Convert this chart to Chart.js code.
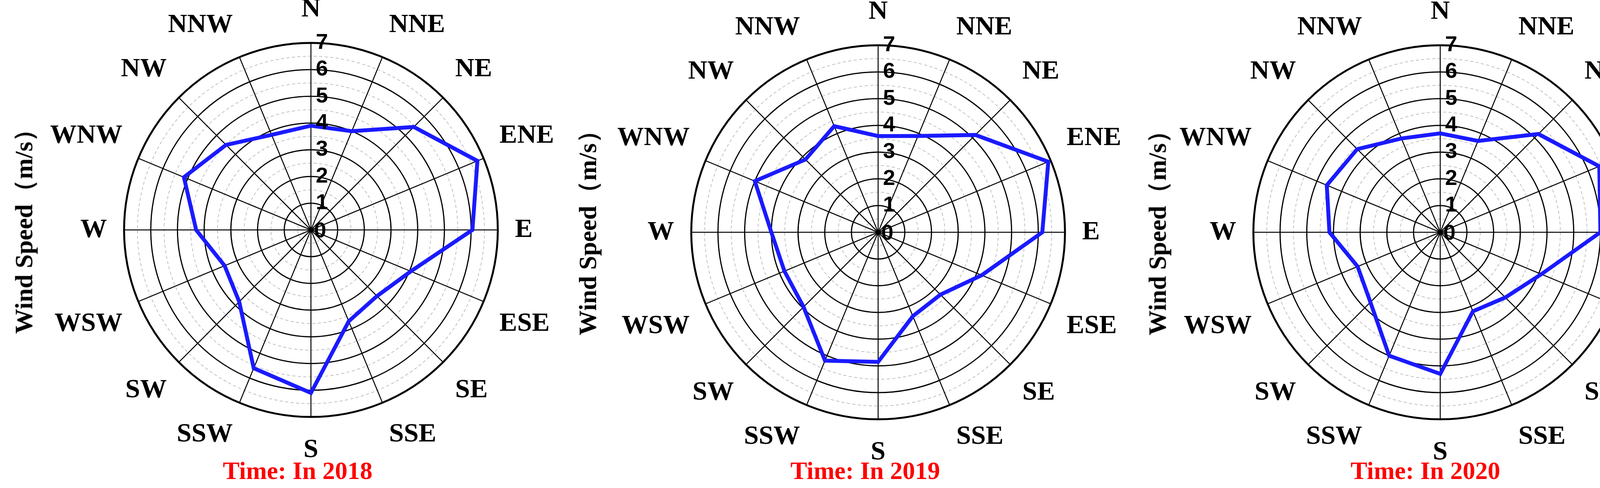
<!DOCTYPE html>
<html>
<head>
<meta charset="utf-8">
<script src="https://cdn.jsdelivr.net/npm/chart.js@4.4.1/dist/chart.umd.min.js"></script>
<style>
  body { margin: 0; width: 4257px; height: 1248px; background: #fff; overflow: hidden; position: relative; }
  .box { position: absolute; width: 1340px; height: 1340px; }
  .ylab { position: absolute; font: bold 64px "Liberation Serif", "Times New Roman", serif; white-space: nowrap;
          transform: translate(-50%, -50%) rotate(-90deg); }
  .title { position: absolute; font: bold 64px "Liberation Serif", "Times New Roman", serif; color: #ff0000;
           white-space: nowrap; transform: translate(-50%, -50%); }
</style>
</head>
<body>
<div class="box" id="b0"><canvas id="c0"></canvas></div>
<div class="box" id="b1"><canvas id="c1"></canvas></div>
<div class="box" id="b2"><canvas id="c2"></canvas></div>
<div class="ylab" style="left:61px;top:576px">Wind Speed（m/s）</div>
<div class="ylab" style="left:1504px;top:580px">Wind Speed（m/s）</div>
<div class="ylab" style="left:2963px;top:580px">Wind Speed（m/s）</div>
<div class="title" style="left:762px;top:1204px">Time: In 2018</div>
<div class="title" style="left:2215px;top:1204px">Time: In 2019</div>
<div class="title" style="left:3649px;top:1204px">Time: In 2020</div>
<script>
const directions = ['N', 'NNE', 'NE', 'ENE', 'E', 'ESE', 'SE', 'SSE', 'S', 'SSW', 'SW', 'WSW', 'W', 'WNW', 'NW', 'NNW'];
const speed2018 = [3.9, 4.0, 5.45, 6.75, 6.05, 4.05, 3.5, 3.7, 6.1, 5.6, 3.8, 3.5, 4.3, 5.15, 4.5, 3.85];
const speed2019 = [3.6, 3.9, 5.15, 6.9, 6.15, 4.2, 3.3, 3.4, 4.85, 5.2, 3.95, 3.8, 4.0, 5.0, 3.85, 4.3];
const speed2020 = [3.7, 3.7, 5.2, 6.45, 6.0, 4.1, 3.45, 3.2, 5.3, 5.0, 3.7, 3.35, 4.15, 4.6, 4.4, 3.8];
const speedMax = 7;

const charts = [
    { id: 'c0', box: 'b0', cx: 772, cy: 588, data: speed2018 },
    { id: 'c1', box: 'b1', cx: 2224, cy: 594, data: speed2019 },
    { id: 'c2', box: 'b2', cx: 3663, cy: 594, data: speed2020 }
];

// draws the "0" at the centre, which the radial scale skips
const zeroLabel = {
    id: 'zeroLabel',
    afterDatasetsDraw(chart) {
        const r = chart.scales.r;
        const ctx = chart.ctx;
        ctx.save();
        ctx.font = 'bold 56px "Liberation Sans Narrow", "Liberation Sans", Arial';
        ctx.fillStyle = '#000';
        ctx.textAlign = 'left';
        ctx.textBaseline = 'middle';
        ctx.fillText('0', r.xCenter + 8, r.yCenter + 4);
        ctx.restore();
    }
};

function makeChart(c) {
    const box = document.getElementById(c.box);
    box.style.left = (c.cx - 670) + 'px';
    box.style.top = (c.cy - 670) + 'px';
    new Chart(document.getElementById(c.id), {
        type: 'radar',
        data: {
            labels: directions,
            datasets: [{
                data: c.data,
                borderColor: '#1a1aff',
                borderWidth: 10,
                pointRadius: 0,
                fill: false,
                tension: 0
            }]
        },
        options: {
            responsive: true,
            maintainAspectRatio: false,
            animation: false,
            plugins: { legend: { display: false }, tooltip: { enabled: false } },
            scales: {
                r: {
                    min: 0,
                    max: speedMax,
                    ticks: {
                        stepSize: 0.5,
                        showLabelBackdrop: false,
                        color: '#000',
                        z: 1,
                        font: { family: '"Liberation Sans Narrow", "Liberation Sans", Arial', size: 56, weight: 'bold' },
                        callback: v => Number.isInteger(v) ? '\u2002\u2002' + v : ''
                    },
                    grid: {
                        circular: true,
                        color: ctx => Number.isInteger(ctx.tick.value) ? '#000' : '#b0b0b0',
                        lineWidth: ctx => ctx.tick.value === speedMax ? 5 : (Number.isInteger(ctx.tick.value) ? 3 : 1.5)
                    },
                    border: {
                        dash: ctx => Number.isInteger(ctx.tick.value) ? [] : [8, 6]
                    },
                    angleLines: { color: '#000', lineWidth: 2.5 },
                    pointLabels: {
                        color: '#000',
                        padding: 14,
                        font: { family: '"Liberation Serif", "Times New Roman", serif', size: 68, weight: 'bold' }
                    }
                }
            }
        },
        plugins: [zeroLabel]
    });
}

charts.forEach(makeChart);
</script>
</body>
</html>
